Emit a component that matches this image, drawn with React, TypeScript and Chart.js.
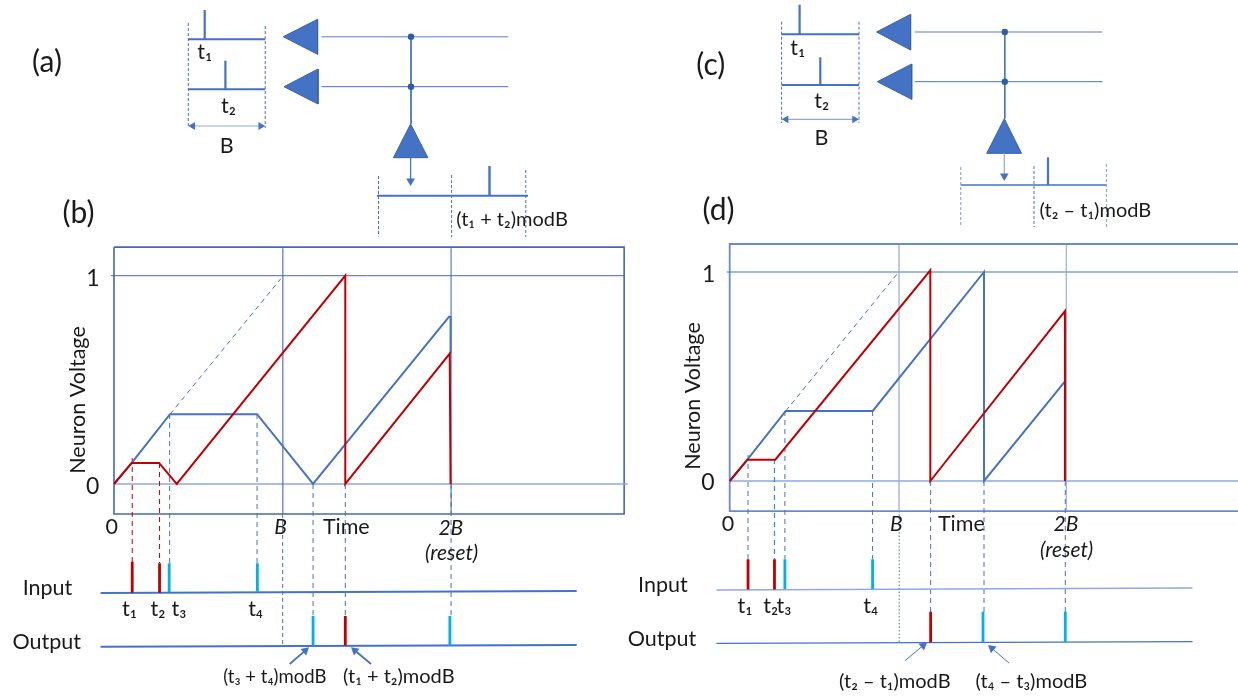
import React, { useEffect, useRef } from "react";
import { Chart, registerables } from "chart.js";

Chart.register(...registerables);

/* ---------- Panel (b): time in units of B, voltage 0..1 ---------- */
const blueTimeB = [0, 0.105, 0.332, 0.848, 1.18, 1.99];
const blueVoltB = [0, 0.101, 0.335, 0.335, 0, 0.807];
const blueDropTimeB = [1.995, 1.995];
const blueDropVoltB = [0.807, 0.626];
const redTimeB = [0, 0.105, 0.267, 0.372, 1.371, 1.371, 1.99, 1.995];
const redVoltB = [0, 0.101, 0.101, 0, 1, 0, 0.626, 0];
const slopeTimeB = [0.332, 0.988];
const slopeVoltB = [0.335, 0.985];
const frameTimeB = [0, 3.024, 3.024, 0, 0];
const frameVoltB = [1.137, 1.137, -0.144, -0.144, 1.137];
const inputRedB = [0.108, 0.27];
const inputCyanB = [0.327, 0.85];
const outputCyanB = [1.18, 1.991];
const outputRedB = [1.371];

/* ---------- Panel (d) ---------- */
const blueTimeD = [0, 0.105, 0.333, 0.85, 1.511, 1.511, 1.996];
const blueVoltD = [0, 0.102, 0.335, 0.335, 1, 0, 0.48];
const redTimeD = [0, 0.105, 0.271, 1.192, 1.192, 1.992, 1.992];
const redVoltD = [0, 0.102, 0.102, 1.008, 0, 0.813, 0];
const slopeTimeD = [0.333, 0.996];
const slopeVoltD = [0.335, 0.992];
const frameTimeD = [3.02, 0, 0, 3.02];
const frameVoltD = [1.134, 1.134, -0.144, -0.144];
const inputRedD = [0.109, 0.266];
const inputCyanD = [0.328, 0.849];
const outputRedD = [1.194];
const outputCyanD = [1.505, 1.994];

/* ---------- Scale mappings (unit length and origin of each panel) ---------- */
const PAGE_W = 1238;
const PAGE_H = 696;
const INSET = 5; /* Chart.js keeps this margin for the largest point radius */
const axisB = { x0: 114, xUnit: 168.7, y0: 484, yUnit: 208.3 };
const axisD = { x0: 729.7, xUnit: 168.3, y0: 481, yUnit: 209 };

type Pt = { x: number; y: number };
const zip = (xs: number[], ys: number[]): Pt[] => xs.map((x, i) => ({ x, y: ys[i] }));

const BLUE = "#4472C4";
const FRAME = "#4469B0";
const LIGHT = "#8FAADC";
const RED = "#C00000";
const CYAN = "#00B0F0";
const EDGE = "#3A62A8";

let order = 0;
const line = (
  data: Pt[],
  color: string,
  width: number,
  xAxisID = "x",
  yAxisID = "y",
  dash: number[] = []
) => ({
  type: "line" as const,
  data,
  xAxisID,
  yAxisID,
  borderColor: color,
  borderWidth: width,
  borderDash: dash,
  pointRadius: 0,
  tension: 0,
  fill: false,
  order: order--,
});

const poly = (xs: number[], ys: number[]) => ({
  ...line(zip(xs, ys), EDGE, 1),
  fill: "shape",
  backgroundColor: BLUE,
});

const dot = (x: number, y: number) => ({
  ...line([{ x, y }], BLUE, 0),
  showLine: false,
  pointRadius: 3.2,
  pointBackgroundColor: "#2F5CA8",
  pointBorderWidth: 0,
});

const angle = (a: Pt, b: Pt) => (Math.atan2(b.x - a.x, a.y - b.y) * 180) / Math.PI;

/* The triangle marker is centred on its point, so the point sits back from the tip. */
const arrow = (xs: number[], ys: number[], color: string, width: number, head: number, both = false) => {
  const pts = zip(xs, ys);
  const fwd = angle(pts[0], pts[1]);
  const dx = Math.sin((fwd * Math.PI) / 180) * head;
  const dy = -Math.cos((fwd * Math.PI) / 180) * head;
  const start = both ? { x: pts[0].x + dx, y: pts[0].y + dy } : pts[0];
  const end = { x: pts[1].x - dx, y: pts[1].y - dy };
  return {
    ...line([start, end], color, width),
    pointStyle: "triangle",
    pointRadius: [both ? head : 0, head],
    pointRotation: [fwd + 180, fwd],
    pointBackgroundColor: BLUE,
    pointBorderWidth: 0,
  };
};

/* ---------- Schematic (a) ---------- */
const trainA = [188.3, 265.2];
const spikesA = [204.7, 225.4];
const spikeBaseA = [39.3, 89.3];
const spikeTopA = [10, 60.7];
const triAX1 = [283.2, 317.6, 317.6, 283.2];
const triAY1 = [36.7, 19.3, 54.3, 36.7];
const triAX2 = [284, 318, 318, 284];
const triAY2 = [86.7, 69, 104, 86.7];
const triAX3 = [410.6, 427.9, 393.4, 410.6];
const triAY3 = [124, 157.7, 157.7, 124];
const rowsA = [36.7, 86.7];
const busXA = 411;
const wireA = [321.5, 508.2];

/* ---------- Schematic (c) ---------- */
const trainC = [781.6, 859];
const spikesC = [799.6, 820.3];
const spikeBaseC = [34.3, 85];
const spikeTopC = [4.7, 57.3];
const triCX1 = [876.5, 910.6, 910.6, 876.5];
const triCY1 = [32, 14.3, 50, 32];
const triCX2 = [877.3, 911.7, 911.7, 877.3];
const triCY2 = [81.7, 64, 99.3, 81.7];
const triCX3 = [1004.3, 1021.5, 986.7, 1004.3];
const triCY3 = [118.7, 153.3, 153.3, 118.7];
const rowsC = [32, 81.7];
const busXC = 1004.8;
const wireC = [914.8, 1102.3];

/* ---------- Text ---------- */
type Lbl = [string, number, number];
const panelLabels: Lbl[] = [
  ["(a)", 47, 62.7],
  ["(b)", 78.5, 213],
  ["(c)", 710.8, 65.7],
  ["(d)", 718.5, 210],
];
const plainLabels: Lbl[] = [
  ["t₁", 204.7, 52],
  ["t₂", 228.5, 105.7],
  ["B", 226.6, 145.7],
  ["t₁", 797.7, 48],
  ["t₂", 821.8, 101],
  ["B", 821.4, 138],
  ["0", 111.7, 527],
  ["Time", 346.3, 527],
  ["Input", 47.5, 588],
  ["Output", 46.7, 642],
  ["t₁", 129.4, 609],
  ["t₂", 158, 609],
  ["t₃", 179, 609],
  ["t₄", 255.6, 609],
  ["0", 728, 524],
  ["Time", 961.4, 524],
  ["Input", 662.9, 585],
  ["Output", 662, 639],
  ["t₁", 745, 605.7],
  ["t₂", 770.8, 605.7],
  ["t₃", 784, 605.7],
  ["t₄", 870.7, 605.7],
];
const moduloLabels: Lbl[] = [
  ["(t₁ + t₂)modB", 512, 220],
  ["(t₂ – t₁)modB", 1095.4, 211],
  ["(t₁ + t₂)modB", 398.8, 677],
  ["(t₂ – t₁)modB", 894.8, 681.7],
  ["(t₄ – t₃)modB", 1031.4, 681.7],
];
const smallLabels: Lbl[] = [["(t₃ + t₄)modB", 274.8, 677]];
const italicLabels: Lbl[] = [
  ["B", 280.5, 527],
  ["2B", 450.8, 528],
  ["(reset)", 451.6, 553],
  ["B", 896.3, 524],
  ["2B", 1066, 524],
  ["(reset)", 1066.6, 550.7],
];
const tickLabels: Lbl[] = [
  ["1", 93, 279],
  ["0", 92.7, 486.7],
  ["1", 708.7, 275],
  ["0", 708, 483],
];
const axisTitles: Lbl[] = [
  ["Neuron Voltage", 78, 400],
  ["Neuron Voltage", 693, 396],
];

const FAMILY = "Lato, 'Noto Sans', sans-serif";

const textPlugin = {
  id: "diagramText",
  afterDatasetsDraw(chart: Chart) {
    const { ctx } = chart;
    const px = (v: number) => chart.scales.x.getPixelForValue(v);
    const py = (v: number) => chart.scales.y.getPixelForValue(v);
    ctx.save();
    ctx.fillStyle = "#1a1a1a";
    ctx.textAlign = "center";
    ctx.textBaseline = "middle";
    const put = (list: Lbl[], font: string) => {
      ctx.font = font;
      list.forEach(([t, x, y]) => ctx.fillText(t, px(x), py(y)));
    };
    put(panelLabels, `30px ${FAMILY}`);
    put(plainLabels, `21.5px ${FAMILY}`);
    put(moduloLabels, `20px ${FAMILY}`);
    put(smallLabels, `18.5px ${FAMILY}`);
    put(italicLabels, `italic 21px ${FAMILY}`);
    put(tickLabels, `23px ${FAMILY}`);
    ctx.font = `21.5px ${FAMILY}`;
    axisTitles.forEach(([t, x, y]) => {
      ctx.save();
      ctx.translate(px(x), py(y));
      ctx.rotate(-Math.PI / 2);
      ctx.fillText(t, 0, 0);
      ctx.restore();
    });
    ctx.restore();
  },
};

function schematic(
  train: number[],
  spikes: number[],
  base: number[],
  tops: number[],
  rows: number[],
  wire: number[],
  busX: number,
  busEnd: number,
  dashTop: number[],
  dashBottom: number,
  spanY: number
) {
  return [
    line(zip(train, [base[0], base[0]]), BLUE, 2),
    line(zip(train, [base[1], base[1]]), BLUE, 2),
    line(zip([spikes[0], spikes[0]], [base[0], tops[0]]), BLUE, 2.2),
    line(zip([spikes[1], spikes[1]], [base[1], tops[1]]), BLUE, 2.2),
    line(zip([train[0], train[0]], [dashTop[0], dashBottom]), BLUE, 1, "x", "y", [3, 2]),
    line(zip([train[1], train[1]], [dashTop[1], dashBottom]), BLUE, 1, "x", "y", [3, 2]),
    arrow([train[0], train[1]], [spanY, spanY], LIGHT, 1.2, 4.5, true),
    line(zip(wire, [rows[0], rows[0]]), LIGHT, 1.4),
    line(zip(wire, [rows[1], rows[1]]), BLUE, 1),
    line(zip([busX, busX], [rows[0], busEnd]), BLUE, 1),
    dot(busX, rows[0]),
    dot(busX, rows[1]),
  ];
}

function buildDatasets() {
  const xb = "xb", yb = "yb", xd = "xd", yd = "yd";
  const dash: number[] = [5, 4];
  const vert = (t: number, from: number, to: number, c: string, w: number, xId: string, d: number[] = []) =>
    line(zip([t, t], [from, to]), c, w, xId, "y", d);
  return [
    /* frames and gridlines */
    line(zip(frameTimeB, frameVoltB), FRAME, 1.6, xb, yb),
    line(zip([-0.018, 3.024], [1, 1]), FRAME, 1, xb, yb),
    line(zip([0, 3.045], [0, 0]), LIGHT, 1.5, xb, yb),
    vert(1.001, 248.3, 514, FRAME, 1.1, xb),
    vert(1.998, 248.3, 514, BLUE, 1.1, xb),
    line(zip(frameTimeD, frameVoltD), "#6A8BC6", 1.8, xd, yd),
    line(zip([-0.018, 3.02], [1, 1]), BLUE, 1, xd, yd),
    line(zip([0, 3.02], [0, 0]), LIGHT, 1.5, xd, yd),
    vert(1.006, 245, 511, LIGHT, 1.2, xd),
    vert(2.0, 245, 511, LIGHT, 1.1, xd),

    /* dashed drops of panel (b) */
    vert(inputRedB[0], 458, 562, RED, 1, xb, dash),
    vert(inputRedB[1], 463, 563, RED, 1, xb, dash),
    vert(inputCyanB[0] + 0.003, 414, 563, BLUE, 1, xb, dash),
    vert(inputCyanB[1] - 0.002, 414, 563, BLUE, 1, xb, dash),
    vert(1.0, 514, 645, BLUE, 1, xb, [4, 3]),
    vert(outputCyanB[0], 484, 616, BLUE, 1, xb, dash),
    vert(outputRedB[0], 484, 616, BLUE, 1, xb, dash),
    vert(1.998, 484, 617, BLUE, 1, xb, dash),

    /* dashed drops of panel (d) */
    vert(inputRedD[0], 455, 559, BLUE, 1, xd, dash),
    vert(inputRedD[1], 459, 559, "#3B8FD0", 1.3, xd, dash),
    vert(inputCyanD[0], 411, 559, BLUE, 1, xd, dash),
    vert(inputCyanD[1], 411, 559, BLUE, 1, xd, dash),
    vert(1.007, 511, 642, BLUE, 1, xd, [1.5, 2]),
    vert(outputRedD[0], 481, 612, BLUE, 1, xd, dash),
    vert(outputCyanD[0] + 0.006, 481, 612, BLUE, 1, xd, dash),
    vert(outputCyanD[1], 481, 612, BLUE, 1, xd, dash),

    /* voltage curves */
    line(zip(slopeTimeB, slopeVoltB), BLUE, 1, xb, yb, [5, 4]),
    line(zip(blueTimeB, blueVoltB), BLUE, 2, xb, yb),
    line(zip(blueDropTimeB, blueDropVoltB), BLUE, 2, xb, yb),
    line(zip(redTimeB, redVoltB), RED, 2, xb, yb),
    line(zip(slopeTimeD, slopeVoltD), BLUE, 1, xd, yd, [5, 4]),
    line(zip(blueTimeD, blueVoltD), BLUE, 2, xd, yd),
    line(zip(redTimeD, redVoltD), RED, 2, xd, yd),

    /* input and output rails */
    line(zip([100.6, 576.7], [593, 591]), BLUE, 2),
    line(zip([100.6, 576.7], [646.7, 645]), BLUE, 2),
    line(zip([716.4, 1192.5], [590, 588]), LIGHT, 1.6),
    line(zip([716.4, 1192.5], [643.3, 641.7]), BLUE, 1.2),

    /* spikes */
    ...inputRedB.map((t, i) => vert(t, [561.7, 563.3][i], 592.7, RED, 2.8, xb)),
    ...inputCyanB.map((t) => vert(t, 563.3, 592, CYAN, 2.8, xb)),
    ...outputCyanB.map((t) => vert(t, 616, 645.5, CYAN, 2.8, xb)),
    ...outputRedB.map((t) => vert(t, 616, 645.5, RED, 2.8, xb)),
    ...inputRedD.map((t) => vert(t, 559.3, 589.5, RED, 2.8, xd)),
    ...inputCyanD.map((t) => vert(t, 559.3, 589, CYAN, 2.8, xd)),
    ...outputRedD.map((t) => vert(t, 611.7, 642.3, RED, 2.8, xd)),
    ...outputCyanD.map((t) => vert(t, 611.7, 642, CYAN, 2.8, xd)),

    /* label arrows */
    arrow([289.7, 309], [664, 647.3], BLUE, 1.8, 5),
    arrow([371, 351], [664, 647.3], BLUE, 1.8, 5),
    arrow([905, 927], [660.7, 642.3], BLUE, 1, 5),
    arrow([1009, 988], [663, 645], BLUE, 1, 5),

    /* schematics */
    ...schematic(trainA, spikesA, spikeBaseA, spikeTopA, rowsA, wireA, busXA, 124, [23, 26], 128, 126),
    poly(triAX1, triAY1),
    poly(triAX2, triAY2),
    poly(triAX3, triAY3),
    arrow([410.6, 410.6], [157.7, 186], BLUE, 1, 5),
    line(zip([377, 528], [195.7, 195.7]), BLUE, 2),
    line(zip([489.5, 489.5], [195.7, 166]), BLUE, 2.4),
    line(zip([378.5, 378.5], [176, 236.7]), BLUE, 1, "x", "y", [3, 2]),
    line(zip([451.6, 451.6], [175, 237]), BLUE, 1, "x", "y", [3, 2]),
    line(zip([525.8, 525.8], [170, 237]), BLUE, 1, "x", "y", [3, 2]),

    ...schematic(trainC, spikesC, spikeBaseC, spikeTopC, rowsC, wireC, busXC, 118.7, [21.7, 21.7], 123, 119.3),
    poly(triCX1, triCY1),
    poly(triCX2, triCY2),
    poly(triCX3, triCY3),
    arrow([1004.3, 1004.3], [153.3, 181], LIGHT, 1.2, 5),
    line(zip([960.7, 1106], [185, 185]), BLUE, 1.6),
    line(zip([1048, 1048], [185, 157.3]), BLUE, 2.2),
    line(zip([960.7, 960.7], [167, 227]), LIGHT, 1.2, "x", "y", [3, 2]),
    line(zip([1034, 1034], [166, 227]), BLUE, 1, "x", "y", [3, 2]),
    line(zip([1106.5, 1106.5], [164, 227]), LIGHT, 1.2, "x", "y", [3, 2]),
  ];
}

const hidden = (min: number, max: number, reverse = false) => ({
  type: "linear" as const,
  display: false,
  min,
  max,
  reverse,
});

const timeScale = (a: typeof axisB) => hidden(-a.x0 / a.xUnit, (PAGE_W - a.x0) / a.xUnit);
const voltScale = (a: typeof axisB) => hidden((a.y0 - PAGE_H) / a.yUnit, a.y0 / a.yUnit);

export default function App() {
  const ref = useRef<HTMLCanvasElement>(null);
  useEffect(() => {
    if (!ref.current) return;
    order = 0;
    const chart = new Chart(ref.current, {
      type: "line",
      data: { datasets: buildDatasets() as any },
      options: {
        responsive: false,
        animation: false,
        parsing: false as any,
        layout: { padding: 0 },
        plugins: { legend: { display: false }, tooltip: { enabled: false } },
        scales: {
          x: hidden(0, PAGE_W),
          y: hidden(0, PAGE_H, true),
          xb: timeScale(axisB),
          yb: voltScale(axisB),
          xd: timeScale(axisD),
          yd: voltScale(axisD),
        },
      },
      plugins: [textPlugin],
    });
    return () => chart.destroy();
  }, []);
  return (
    <div
      style={{
        position: "absolute",
        left: 0,
        top: 0,
        width: PAGE_W,
        height: PAGE_H,
        overflow: "hidden",
        background: "#fff",
      }}
    >
      <canvas
        ref={ref}
        width={PAGE_W + 2 * INSET}
        height={PAGE_H + 2 * INSET}
        style={{ display: "block", position: "absolute", left: -INSET, top: -INSET }}
      />
    </div>
  );
}
